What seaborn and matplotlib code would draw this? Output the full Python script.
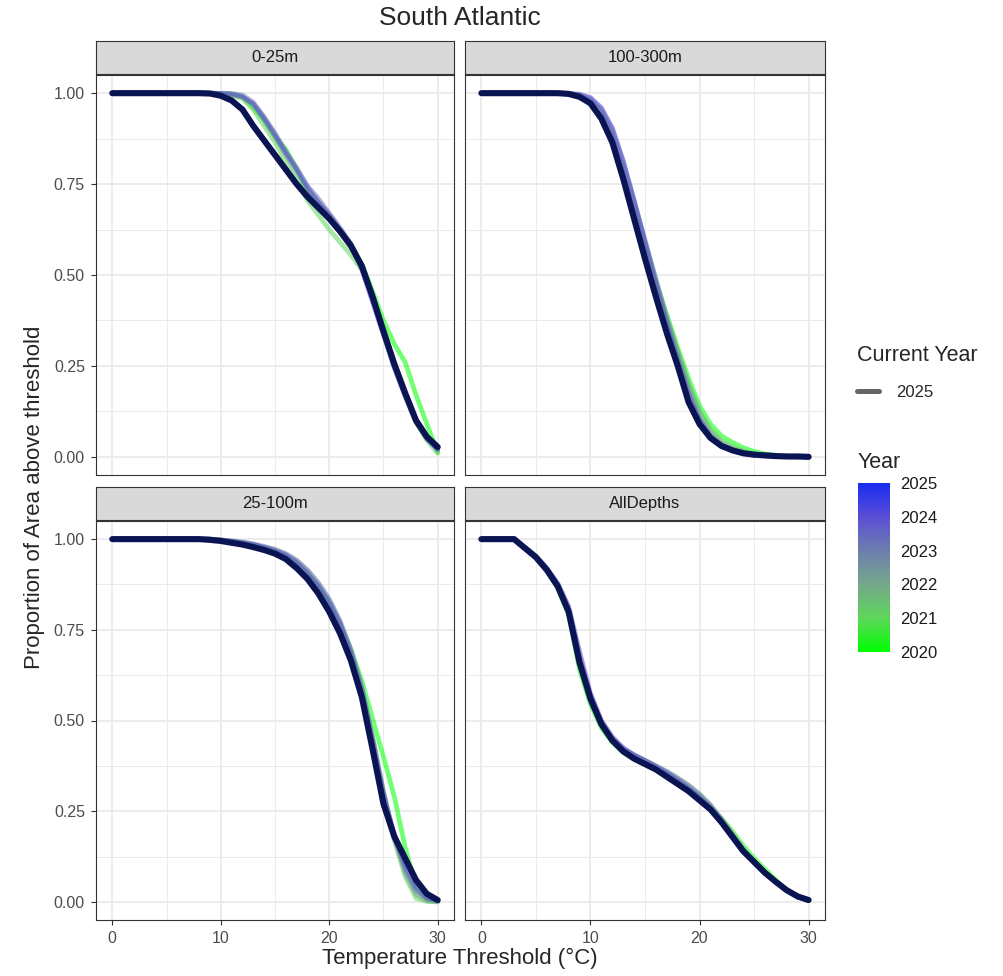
'''Thermal habitat curves, South Atlantic.'''
import pandas as pd
import matplotlib
matplotlib.use('Agg')
import matplotlib.pyplot as plt
import matplotlib.cm as cm
from matplotlib.colors import LinearSegmentedColormap, Normalize
from matplotlib.lines import Line2D
import seaborn as sns

# data
temps = list(range(31))
years = [2020, 2021, 2022, 2023, 2024]
current_year = 2025
depths = ['0-25m', '100-300m', '25-100m', 'AllDepths']
year_colors = ['#00FF00', '#5ED65A', '#74A88A', '#6E7EAD', '#5A4FD6', '#1A2BF0']
x_ticks = [0, 10, 20, 30]
y_ticks = [0, 0.25, 0.5, 0.75, 1.0]
y_labels = ['0.00', '0.25', '0.50', '0.75', '1.00']

shallow_2020 = [1]*10 + [0.999, 0.998, 0.99, 0.96, 0.925, 0.88, 0.845, 0.79, 0.725, 0.69, 0.655, 0.62, 0.585, 0.53, 0.455, 0.375, 0.31, 0.26, 0.17, 0.09, 0.012]
shallow_2021 = [1]*10 + [0.998, 0.993, 0.985, 0.955, 0.91, 0.865, 0.81, 0.755, 0.705, 0.665, 0.625, 0.59, 0.555, 0.515, 0.44, 0.35, 0.255, 0.17, 0.095, 0.045, 0.01]
shallow_2022 = [1]*10 + [0.999, 0.997, 0.99, 0.97, 0.93, 0.88, 0.83, 0.78, 0.735, 0.7, 0.665, 0.625, 0.585, 0.525, 0.44, 0.35, 0.26, 0.18, 0.105, 0.055, 0.02]
shallow_2023 = [1]*10 + [1.0, 0.999, 0.995, 0.975, 0.935, 0.89, 0.84, 0.795, 0.745, 0.71, 0.67, 0.63, 0.585, 0.52, 0.43, 0.34, 0.245, 0.165, 0.095, 0.05, 0.02]
shallow_2024 = [1]*10 + [0.999, 0.997, 0.99, 0.97, 0.93, 0.885, 0.835, 0.79, 0.74, 0.7, 0.665, 0.625, 0.585, 0.515, 0.425, 0.335, 0.245, 0.17, 0.1, 0.05, 0.02]
shallow_2025 = [1]*9 + [0.999, 0.993, 0.98, 0.955, 0.91, 0.87, 0.83, 0.79, 0.75, 0.715, 0.685, 0.655, 0.62, 0.58, 0.525, 0.44, 0.345, 0.255, 0.175, 0.1, 0.055, 0.027]

deep_2020 = [1]*8 + [1.0, 0.99, 0.972, 0.93, 0.865, 0.77, 0.67, 0.575, 0.48, 0.39, 0.3, 0.215, 0.14, 0.09, 0.058, 0.04, 0.025, 0.015, 0.008, 0.004, 0.002, 0.001, 0.0]
deep_2021 = [1]*8 + [0.998, 0.992, 0.975, 0.94, 0.875, 0.785, 0.685, 0.58, 0.48, 0.38, 0.29, 0.2, 0.125, 0.075, 0.045, 0.028, 0.016, 0.009, 0.005, 0.003, 0.001, 0.001, 0.0]
deep_2022 = [1]*8 + [0.999, 0.995, 0.982, 0.95, 0.89, 0.8, 0.7, 0.595, 0.49, 0.385, 0.29, 0.195, 0.12, 0.07, 0.04, 0.024, 0.013, 0.007, 0.004, 0.002, 0.001, 0.0, 0.0]
deep_2023 = [1]*8 + [0.999, 0.996, 0.985, 0.955, 0.9, 0.81, 0.705, 0.595, 0.485, 0.375, 0.275, 0.18, 0.105, 0.06, 0.033, 0.018, 0.01, 0.005, 0.003, 0.001, 0.001, 0.0, 0.0]
deep_2024 = [1]*8 + [0.999, 0.997, 0.988, 0.96, 0.905, 0.815, 0.705, 0.59, 0.475, 0.365, 0.265, 0.17, 0.1, 0.055, 0.03, 0.016, 0.008, 0.004, 0.002, 0.001, 0.0, 0.0, 0.0]
deep_2025 = [1]*8 + [0.998, 0.99, 0.972, 0.93, 0.865, 0.765, 0.655, 0.545, 0.44, 0.34, 0.25, 0.15, 0.09, 0.052, 0.03, 0.018, 0.01, 0.006, 0.004, 0.002, 0.001, 0.001, 0.0]

mid_2020 = [1]*10 + [0.997, 0.994, 0.99, 0.984, 0.976, 0.966, 0.952, 0.93, 0.9, 0.865, 0.82, 0.765, 0.695, 0.61, 0.505, 0.4, 0.29, 0.15, 0.04, 0.008, 0.002]
mid_2021 = [1]*10 + [0.997, 0.994, 0.99, 0.983, 0.975, 0.965, 0.952, 0.93, 0.9, 0.86, 0.815, 0.755, 0.68, 0.585, 0.45, 0.3, 0.17, 0.07, 0.01, 0.001, 0.0]
mid_2022 = [1]*10 + [0.998, 0.995, 0.991, 0.986, 0.978, 0.97, 0.958, 0.94, 0.912, 0.875, 0.83, 0.77, 0.695, 0.595, 0.455, 0.305, 0.175, 0.08, 0.02, 0.003, 0.0]
mid_2023 = [1]*10 + [0.998, 0.995, 0.992, 0.987, 0.98, 0.972, 0.96, 0.942, 0.915, 0.88, 0.835, 0.775, 0.695, 0.59, 0.45, 0.3, 0.18, 0.09, 0.03, 0.008, 0.002]
mid_2024 = [1]*10 + [0.997, 0.994, 0.99, 0.985, 0.977, 0.968, 0.955, 0.935, 0.905, 0.87, 0.825, 0.765, 0.685, 0.58, 0.44, 0.295, 0.185, 0.1, 0.04, 0.012, 0.003]
mid_2025 = [1]*9 + [0.998, 0.995, 0.99, 0.985, 0.978, 0.97, 0.96, 0.945, 0.92, 0.89, 0.85, 0.8, 0.74, 0.665, 0.565, 0.42, 0.27, 0.18, 0.12, 0.06, 0.022, 0.005]

all_2020 = [1, 1, 1, 1, 0.975, 0.95, 0.915, 0.865, 0.79, 0.64, 0.545, 0.48, 0.44, 0.412, 0.393, 0.378, 0.363, 0.345, 0.326, 0.307, 0.283, 0.26, 0.23, 0.195, 0.155, 0.12, 0.09, 0.06, 0.032, 0.013, 0.004]
all_2021 = [1, 1, 1, 1, 0.976, 0.951, 0.916, 0.868, 0.795, 0.655, 0.555, 0.487, 0.445, 0.418, 0.4, 0.385, 0.37, 0.352, 0.333, 0.313, 0.29, 0.262, 0.225, 0.185, 0.145, 0.11, 0.08, 0.055, 0.031, 0.014, 0.004]
all_2022 = [1, 1, 1, 1, 0.976, 0.952, 0.918, 0.872, 0.8, 0.665, 0.565, 0.495, 0.45, 0.42, 0.405, 0.39, 0.375, 0.36, 0.342, 0.322, 0.298, 0.268, 0.23, 0.188, 0.145, 0.11, 0.08, 0.055, 0.031, 0.014, 0.004]
all_2023 = [1, 1, 1, 1, 0.977, 0.953, 0.92, 0.876, 0.808, 0.675, 0.57, 0.498, 0.452, 0.423, 0.405, 0.39, 0.375, 0.358, 0.34, 0.32, 0.295, 0.265, 0.228, 0.186, 0.144, 0.11, 0.08, 0.055, 0.031, 0.014, 0.004]
all_2024 = [1, 1, 1, 1, 0.977, 0.953, 0.92, 0.878, 0.815, 0.69, 0.575, 0.5, 0.455, 0.425, 0.405, 0.39, 0.373, 0.355, 0.335, 0.313, 0.288, 0.26, 0.222, 0.182, 0.142, 0.11, 0.08, 0.055, 0.031, 0.014, 0.005]
all_2025 = [1, 1, 1, 1, 0.975, 0.95, 0.915, 0.87, 0.8, 0.66, 0.56, 0.49, 0.445, 0.415, 0.395, 0.38, 0.365, 0.345, 0.325, 0.305, 0.28, 0.255, 0.22, 0.18, 0.14, 0.11, 0.08, 0.055, 0.032, 0.015, 0.005]

series = {
    '0-25m': [shallow_2020, shallow_2021, shallow_2022, shallow_2023, shallow_2024, shallow_2025],
    '100-300m': [deep_2020, deep_2021, deep_2022, deep_2023, deep_2024, deep_2025],
    '25-100m': [mid_2020, mid_2021, mid_2022, mid_2023, mid_2024, mid_2025],
    'AllDepths': [all_2020, all_2021, all_2022, all_2023, all_2024, all_2025],
}

rows = []
for depth, curves in series.items():
    for yr, vals in zip(years + [current_year], curves):
        for t, v in zip(temps, vals):
            rows.append({'Depth': depth, 'Year': yr, 'Temp': t, 'Prop': v})
df = pd.DataFrame(rows)

sns.set_theme(style='white')
plt.rcParams['font.family'] = ['Liberation Sans', 'DejaVu Sans']

W, H = 1004, 976
fig = plt.figure(figsize=(W / 100, H / 100), dpi=100)

pal = dict(zip(years, year_colors[:5]))
navy = '#0B1452'
border = '#333333'

# pixel boxes (left, top, right, bottom) for each panel
panel_px = {
    '0-25m': (96, 75, 454, 475),
    '100-300m': (465, 75, 825, 475),
    '25-100m': (96, 521, 454, 920),
    'AllDepths': (465, 521, 825, 920),
}
strip_h = 33

for depth, (l, t, r, b) in panel_px.items():
    ax = fig.add_axes([l / W, 1 - b / H, (r - l) / W, (b - t) / H])
    sub = df[df['Depth'] == depth]
    hist = sub[sub['Year'] != current_year]
    cur = sub[sub['Year'] == current_year]
    sns.lineplot(data=hist, x='Temp', y='Prop', hue='Year', palette=pal,
                 lw=3.4, alpha=0.55, legend=False, errorbar=None, ax=ax)
    sns.lineplot(data=cur, x='Temp', y='Prop', color=navy, lw=4.4,
                 legend=False, errorbar=None, ax=ax)

    ax.set_xlim(-1.5, 31.5)
    ax.set_ylim(-0.05, 1.05)
    ax.set_xticks(x_ticks)
    ax.set_xticks([5, 15, 25], minor=True)
    ax.set_yticks(y_ticks, y_labels)
    ax.set_yticks([0.125, 0.375, 0.625, 0.875], minor=True)
    ax.grid(which='major', color='#EBEBEB', lw=1.3)
    ax.grid(which='minor', color='#EBEBEB', lw=0.7)
    ax.set_axisbelow(True)
    ax.set_xlabel('')
    ax.set_ylabel('')
    for s in ax.spines.values():
        s.set_color(border)
        s.set_linewidth(0.8)
    ax.tick_params(which='major', length=3.5, width=0.8, color=border,
                   labelsize=11.5, labelcolor='#4D4D4D', pad=4.5,
                   bottom=True, left=True)
    ax.tick_params(which='minor', length=0)
    if l > 100:
        ax.tick_params(left=False, labelleft=False)
    if b < 500:
        ax.tick_params(bottom=False, labelbottom=False)

    # facet strip
    sax = fig.add_axes([l / W, 1 - (t - 1) / H, (r - l) / W, strip_h / H])
    sax.set_facecolor('#D9D9D9')
    sax.set_xticks([])
    sax.set_yticks([])
    for s in sax.spines.values():
        s.set_color(border)
        s.set_linewidth(0.8)
    sax.text(0.5, 0.5, depth, ha='center', va='center', size=12,
             color='#1A1A1A', transform=sax.transAxes)

# titles
fig.text(460 / W, 1 - 18 / H, 'South Atlantic', ha='center', va='center', size=19)
fig.text(460 / W, 1 - 958 / H, 'Temperature Threshold (°C)', ha='center', va='center', size=16)
fig.text(35 / W, 1 - 497 / H, 'Proportion of Area above threshold', ha='center',
         va='center', rotation=90, size=16)

# current-year legend
fig.legend(handles=[Line2D([], [], color='#666666', lw=3.6)], labels=[str(current_year)],
           title='Current Year', loc='upper left', bbox_to_anchor=(857 / W, 1 - 345 / H),
           frameon=False, fontsize=12, title_fontsize=15.5, handlelength=1.35,
           handletextpad=1.0, labelspacing=1.15, borderpad=0, borderaxespad=0,
           alignment='left')

# year colourbar
cmap = LinearSegmentedColormap.from_list('yr', year_colors)
cax = fig.add_axes([858 / W, 1 - 652 / H, 32 / W, 169 / H])
cb = fig.colorbar(cm.ScalarMappable(norm=Normalize(2020, 2025), cmap=cmap), cax=cax,
                  ticks=years + [current_year])
cb.outline.set_visible(False)
cax.yaxis.set_ticks_position('both')
cax.tick_params(direction='in', length=5, width=0.8, color='white',
                labelsize=12, labelcolor='#1A1A1A', pad=7,
                labelleft=False, labelright=True)
fig.text(858 / W, 1 - 463 / H, 'Year', ha='left', va='center', size=15.5)

plt.savefig('out.png', dpi=100)
